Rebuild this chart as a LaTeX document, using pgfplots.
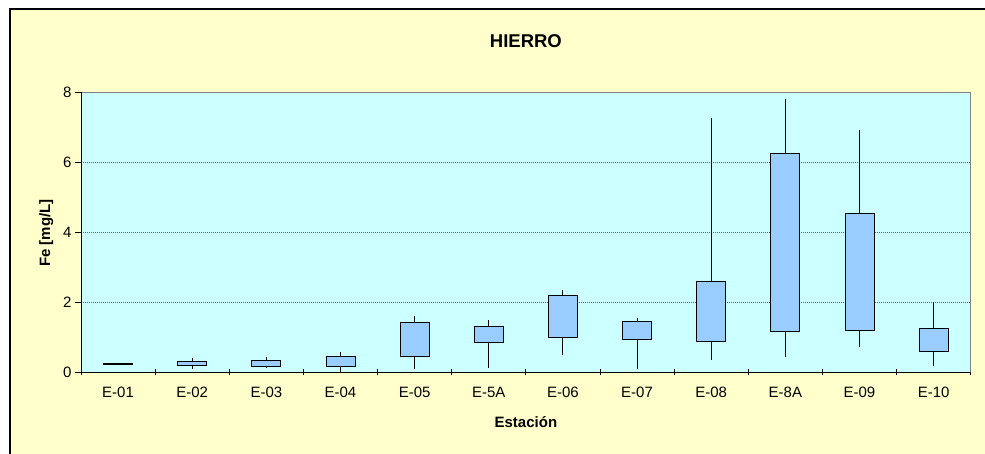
\documentclass[border=0pt]{standalone}
\usepackage{fontspec}
\setmainfont{Liberation Sans}
\usepackage{pgfplots}
\pgfplotsset{compat=1.18}
\usepgfplotslibrary{statistics}
\definecolor{bgyellow}{HTML}{FFFFCC}
\definecolor{plotcyan}{HTML}{CCFFFF}
\definecolor{boxblue}{HTML}{99CCFF}
\begin{document}
\begin{tikzpicture}
\useasboundingbox (0pt,0pt) rectangle (985pt,454pt);
\fill[white] (0pt,0pt) rectangle (985pt,454pt);
\fill[bgyellow] (10pt,0pt) rectangle (985pt,445pt);
\draw[black, line width=1.2pt] (10pt,0pt) -- (10pt,445pt) -- (985pt,445pt);
\begin{axis}[
  at={(81pt,81.7pt)}, anchor=south west,
  scale only axis, width=889.7pt, height=280pt,
  xmin=-0.5, xmax=11.5, ymin=0, ymax=8,
  xtick={-0.5,0.5,...,11.5},
  x tick label as interval,
  xticklabels={E-01,E-02,E-03,E-04,E-05,E-5A,E-06,E-07,E-08,E-8A,E-09,E-10},
  ytick={0,2,4,6,8},
  tick pos=left,
  tick align=center,
  major tick length=6pt,
  ytick style={xshift=-3pt, black, line width=0.8pt},
  xtick style={black, line width=0.8pt},
  ymajorgrids,
  grid style={black!60, line width=0.6pt, dash pattern=on 0.8pt off 1.2pt},
  axis background/.style={fill=plotcyan},
  axis line style={black!50, line width=0.8pt},
  tick label style={font=\fontsize{15}{18}\selectfont},
  /pgf/number format/assume math mode=true,
  xticklabel style={yshift=-8pt},
  yticklabel style={xshift=-3pt},
  boxplot/draw direction=y,
  boxplot/box extend=0.39,
  boxplot/whisker extend=0,
]
\pgfplotsset{every boxplot/.style={draw=black, line width=0.9pt, fill=boxblue}}
\addplot[boxplot prepared={lower whisker=0.22, lower quartile=0.23, median=0.23, upper quartile=0.25, upper whisker=0.27, draw position=0}] coordinates {};
\addplot[boxplot prepared={lower whisker=0.08, lower quartile=0.20, median=0.20, upper quartile=0.31, upper whisker=0.41, draw position=1}] coordinates {};
\addplot[boxplot prepared={lower whisker=0.12, lower quartile=0.18, median=0.18, upper quartile=0.33, upper whisker=0.44, draw position=2}] coordinates {};
\addplot[boxplot prepared={lower whisker=0.02, lower quartile=0.18, median=0.18, upper quartile=0.45, upper whisker=0.57, draw position=3}] coordinates {};
\addplot[boxplot prepared={lower whisker=0.09, lower quartile=0.46, median=0.46, upper quartile=1.41, upper whisker=1.62, draw position=4}] coordinates {};
\addplot[boxplot prepared={lower whisker=0.12, lower quartile=0.84, median=0.84, upper quartile=1.31, upper whisker=1.50, draw position=5}] coordinates {};
\addplot[boxplot prepared={lower whisker=0.50, lower quartile=0.99, median=0.99, upper quartile=2.19, upper whisker=2.34, draw position=6}] coordinates {};
\addplot[boxplot prepared={lower whisker=0.09, lower quartile=0.95, median=0.95, upper quartile=1.44, upper whisker=1.55, draw position=7}] coordinates {};
\addplot[boxplot prepared={lower whisker=0.34, lower quartile=0.88, median=0.88, upper quartile=2.60, upper whisker=7.27, draw position=8}] coordinates {};
\addplot[boxplot prepared={lower whisker=0.44, lower quartile=1.17, median=1.17, upper quartile=6.24, upper whisker=7.82, draw position=9}] coordinates {};
\addplot[boxplot prepared={lower whisker=0.73, lower quartile=1.19, median=1.19, upper quartile=4.55, upper whisker=6.93, draw position=10}] coordinates {};
\addplot[boxplot prepared={lower whisker=0.17, lower quartile=0.60, median=0.60, upper quartile=1.25, upper whisker=2.00, draw position=11}] coordinates {};
\draw[black, line width=1.1pt] (rel axis cs:0,1) -- (rel axis cs:0,0) -- (rel axis cs:1,0);
\end{axis}
\node[anchor=base, font=\bfseries\fontsize{18.5}{22}\selectfont] at (525.9pt,406.3pt) {HIERRO};
\node[anchor=base, font=\bfseries\fontsize{15}{18}\selectfont] at (525.9pt,26.3pt) {Estación};
\node[anchor=base, rotate=90, font=\bfseries\fontsize{15}{18}\selectfont] at (50pt,221pt) {Fe [mg/L]};
\end{tikzpicture}
\end{document}
